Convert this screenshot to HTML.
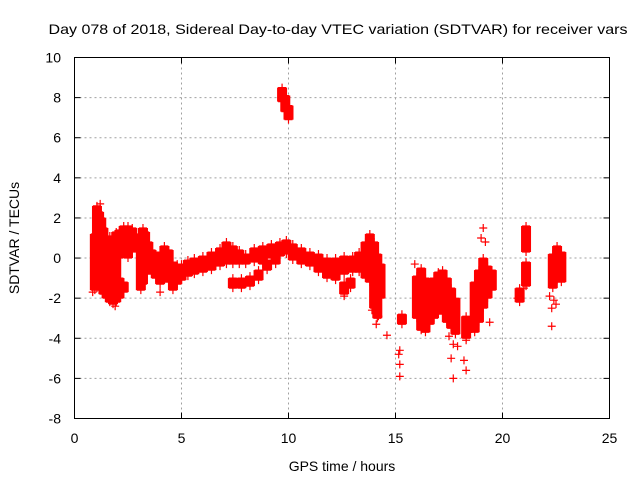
<!DOCTYPE html>
<html><head><meta charset="utf-8"><style>
html,body{margin:0;padding:0;background:#fff;}
svg{display:block;font-family:"Liberation Sans",sans-serif;}
</style></head><body>
<svg id="chart" width="640" height="480">
<text x="338" y="34" font-size="14" text-anchor="middle" textLength="579" lengthAdjust="spacingAndGlyphs">Day 078 of 2018, Sidereal Day-to-day VTEC variation (SDTVAR) for receiver vars</text>
<text x="342" y="471" font-size="14" text-anchor="middle">GPS time / hours</text>
<text transform="translate(19,238) rotate(-90)" font-size="14" text-anchor="middle">SDTVAR / TECUs</text>
<g id="grid"></g>
<g id="marks"></g>
<rect x="74.5" y="57.5" width="535" height="361" fill="none" stroke="#000"/>
<g id="ticks"></g>
</svg>
<script>
const xTicks=[0,5,10,15,20,25];
const yTicks=[-8,-6,-4,-2,0,2,4,6,8,10];
// range bands: x, lo, hi
const bandX=[0.95,1.05,1.15,1.25,1.35,1.5,1.65,1.8,1.95,2.1,2.1,2.3,2.3,2.5,2.7,2.8,3.1,3.2,3.3,3.45,3.6,3.8,4.0,4.2,4.4,4.6,4.8,5.0,5.3,5.6,6.0,6.4,6.8,7.1,7.4,7.7,7.4,7.8,8.2,8.6,9.0,9.4,8.0,8.4,8.8,9.2,9.6,9.9,10.2,10.6,11.0,11.4,11.8,12.2,12.6,13.0,13.3,12.6,12.9,13.6,13.8,14.0,14.15,14.3,15.3,16.0,16.2,16.4,16.6,16.8,17.0,17.2,17.4,17.6,17.8,18.3,18.7,18.9,19.1,19.3,19.5,20.8,21.1,21.1,22.35,22.55,22.75,9.7,9.85,10.0];
const bandLo=[-1.6,-1.5,-1.3,-1.0,-1.8,-2.0,-2.2,-2.3,-2.2,-2.0,0.0,-1.7,0.2,0.0,0.3,0.5,-1.6,-1.3,-0.6,-0.5,-0.8,-1.0,-1.3,-1.0,-1.2,-1.6,-1.3,-1.1,-0.9,-0.8,-0.7,-0.6,-0.4,-0.3,-0.3,-0.3,-1.5,-1.5,-1.4,-1.1,-0.6,-0.3,-0.3,-0.2,-0.3,0.0,0.1,0.2,-0.1,-0.3,-0.4,-0.7,-1.0,-1.1,-0.8,-0.7,-0.7,-1.8,-1.5,-1.0,-1.2,-2.5,-3.0,-2.0,-3.3,-3.0,-3.6,-3.7,-3.3,-3.0,-2.6,-2.8,-3.2,-3.5,-3.8,-4.0,-3.7,-3.2,-2.5,-2.0,-1.6,-2.2,0.3,-1.4,-1.5,-1.1,-1.2,7.8,7.3,6.9];
const bandHi=[1.2,2.6,2.3,2.0,1.5,0.8,1.1,1.0,1.3,-1.0,1.4,-1.2,1.6,1.6,1.5,1.2,0.5,1.5,1.3,0.8,0.4,0.1,0.3,0.6,0.4,-0.2,-0.3,-0.3,-0.1,0.0,0.1,0.3,0.5,0.8,0.6,0.4,-1.0,-1.0,-0.9,-0.6,-0.1,0.2,0.2,0.5,0.6,0.7,0.8,0.9,0.7,0.5,0.3,0.2,0.0,0.0,0.1,0.1,0.3,-1.2,-1.0,0.8,1.2,0.8,0.2,-0.3,-2.8,-0.9,-0.5,-1.0,-1.5,-1.0,-0.7,-0.6,-1.0,-1.5,-2.0,-2.9,-1.2,-0.6,0.0,-0.4,-0.6,-1.5,1.6,-0.2,0.2,0.6,0.3,8.5,8.1,7.6];
// isolated points
const ptX=[0.85,1.2,14.6,15.2,15.15,15.2,15.2,17.7,17.6,17.7,18.2,18.3,19.1,19.0,22.3,22.3,22.5,14.1,14.2,13.9,15.9,17.5,17.9,18.3,18.4,19.2,19.4,21.0,22.2,22.4,20.7,1.9,4.0,12.6];
const ptY=[-1.7,2.7,-3.85,-4.6,-4.8,-5.3,-5.9,-4.3,-5.0,-6.0,-5.1,-5.6,1.5,1.0,-2.5,-3.4,-2.3,-3.3,-2.9,-2.6,-0.3,-3.9,-4.4,-4.1,-3.7,0.8,-3.2,-1.5,-1.9,-2.1,-2.0,-2.4,-1.7,-1.9];

const NS='http://www.w3.org/2000/svg';
const X0=74.5,X1=609.5,Y0=418.5,Y1=57.5;
function sx(v){return X0+(v-0)/(25-0)*(X1-X0);}
function sy(v){return Y0-(v+8)/(10+8)*(Y0-Y1);}
function mk(t,a,p){const e=document.createElementNS(NS,t);for(const k in a)e.setAttribute(k,a[k]);p.appendChild(e);return e;}
const grid=document.getElementById('grid'),ticks=document.getElementById('ticks'),marks=document.getElementById('marks');
xTicks.forEach(v=>{
  const x=sx(v);
  if(v>0&&v<25){const g=mk('line',{x1:x,x2:x,y1:Y1,y2:Y0,stroke:'#a0a0a0','stroke-dasharray':'2,3'},grid);
  
  }
  mk('line',{x1:x,x2:x,y1:Y0,y2:Y0-6,stroke:'#000'},ticks);
  mk('line',{x1:x,x2:x,y1:Y1,y2:Y1+6,stroke:'#000'},ticks);
  const t=mk('text',{x:x,y:443,'font-size':14,'text-anchor':'middle'},ticks);t.textContent=v;
  
  
});
yTicks.forEach(v=>{
  const y=sy(v);
  if(v>-8&&v<10){const g=mk('line',{x1:X0,x2:X1,y1:y,y2:y,stroke:'#a0a0a0','stroke-dasharray':'2,3'},grid);
  
  }
  mk('line',{x1:X0,x2:X0+6,y1:y,y2:y,stroke:'#000'},ticks);
  mk('line',{x1:X1,x2:X1-6,y1:y,y2:y,stroke:'#000'},ticks);
  const t=mk('text',{x:61,y:y+5,'font-size':14,'text-anchor':'end'},ticks);t.textContent=v;
  
  
});
function plus(x,y){
  const p=mk('path',{d:`M${x-4},${y}h8M${x},${y-4}v8`,stroke:'#f00','stroke-width':1.2,fill:'none'},marks);
  
  
}
bandX.forEach((v,i)=>{
  const x=sx(v),ylo=sy(bandLo[i]),yhi=sy(bandHi[i]);
  const r=mk('rect',{x:x-5,y:yhi,width:10,height:Math.max(1,ylo-yhi),fill:'#f00'},marks);
  
  
  plus(x,ylo);plus(x,yhi);
});
ptX.forEach((v,i)=>plus(sx(v),sy(ptY[i])));
</script>
</body></html>
